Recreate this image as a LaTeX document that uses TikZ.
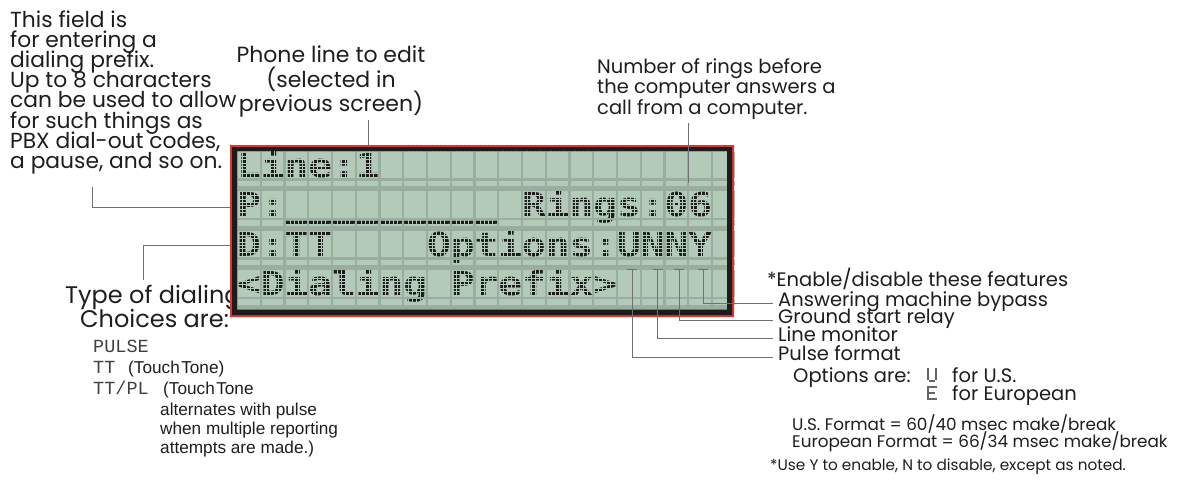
\documentclass[tikz,border=0pt]{standalone}
\usepackage{fontspec}
\setmainfont{Poppins}
\newfontfamily\lcdfont[FakeStretch=1.1955]{DejaVu Sans Mono}
\newfontfamily\courfont{Liberation Mono}
\newfontfamily\arialfont{Liberation Sans}
\definecolor{txtc}{HTML}{1E1E1E}
\definecolor{lcdred}{HTML}{E0352B}
\definecolor{lcdblack}{HTML}{1C1C1C}
\definecolor{gapc}{HTML}{9AAE9F}
\definecolor{cellc}{HTML}{B3CAB8}
\definecolor{connc}{HTML}{707070}
\newcommand\lcdsp[1]{\hphantom{#1}}
\begin{document}
\begin{tikzpicture}[x=1pt,y=-1pt,
  lt/.style={inner sep=0pt, anchor=base west, text=txtc, font=\fontsize{21.8}{21.8}\selectfont},
  bt/.style={inner sep=0pt, anchor=base west, text=txtc, font=\fontsize{24}{24}\selectfont},
  ct/.style={inner sep=0pt, anchor=base, text=txtc, font=\fontsize{22}{22}\selectfont},
  rt/.style={inner sep=0pt, anchor=base west, text=txtc, font=\fontsize{19.5}{19.5}\selectfont},
  lbl/.style={inner sep=0pt, anchor=west, text=txtc, text height=11pt, text depth=5pt, font=\fontsize{19.5}{19.5}\selectfont},
  st/.style={inner sep=0pt, anchor=base west, text=txtc, font=\fontsize{16.8}{16.8}\selectfont},
  nt/.style={inner sep=0pt, anchor=base west, text=txtc, font=\fontsize{15.3}{15.3}\selectfont},
  mono/.style={inner sep=0pt, anchor=base west, text=txtc!85, font=\courfont\fontsize{18.5}{18.5}\selectfont},
  ar/.style={inner sep=0pt, anchor=base west, text=txtc, font=\arialfont\fontsize{17.2}{17.2}\selectfont},
  lcdtxt/.style={inner sep=0pt, anchor=base west, text=lcdblack, text height=24pt, text depth=6pt, font=\lcdfont\bfseries\fontsize{33}{33}\selectfont},
  conn/.style={draw=connc, line width=0.9pt},
  mdot/.style={fill=connc!90!black}
]
\useasboundingbox (0,0) rectangle (1200,485);
\fill[white] (0,0) rectangle (1200,485);

% ---- top-left text
\foreach \t [count=\k from 0] in {This field is, for entering a, dialing prefix., Up to 8 characters, can be used to allow, for such things as, {PBX dial-out codes,}, {a pause, and so on.}}
  \node[lt] (tl\k) at (10,{27+20.2*\k}) {\t};

% ---- phone line text
\node[ct] (ph0) at (331,62) {Phone line to edit};
\node[ct] (ph1) at (331,87) {(selected in};
\node[ct] (ph2) at (331,111) {previous screen)};

% ---- rings text
\node[rt] (rg0) at (597,73) {Number of rings before};
\node[rt] (rg1) at (597,93.5) {the computer answers a};
\node[rt] (rg2) at (597,114) {call from a computer.};

% ---- type of dialing
\node[bt] (td0) at (65,303) {Type of dialing};
\node[bt] (td1) at (80,327) {Choices are:};
\node[mono] (m0) at (93,352) {PULSE};
\node[mono] (m1) at (93,373) {TT};
\node[ar] (a1) at (128,373) {(Touch\kern1.5pt Tone)};
\node[mono] (m2) at (93,394) {TT/PL};
\node[ar] (a2) at (163,394) {(Touch\kern1.5pt Tone};
\node[ar] (a3) at (160,415) {alternates with pulse};
\node[ar] (a4) at (160,434) {when multiple reporting};
\node[ar] (a5) at (160,453) {attempts are made.)};

% ---- connectors under the LCD
\coordinate (phs) at (368,120);
\coordinate (phe) at (368,146);
\draw[conn] (phs) -- (phe);
\coordinate (ps) at (92,187);
\coordinate (pe) at (231,207);
\draw[conn] (ps) |- (pe);
\coordinate (ds) at (143,280);
\coordinate (de) at (231,245);
\draw[conn] (ds) |- (de);

% ---- LCD background and cells
\fill[gapc] (237,151) rectangle (727,309.5);
\foreach \c in {0,...,20}
  \foreach \r in {0,...,3} {
    \fill[cellc] ({237+23.75*\c+1},{151+39.5*\r+0.5}) rectangle ++(21.5,26.5);
    \fill[cellc] ({237+23.75*\c+1},{151+39.5*\r+29.8}) rectangle ++(21.5,5.2);
  }
% ---- LCD text
\node[lcdtxt] (row0) at (237,{151+26}) {Line:1};
\node[lcdtxt] (row1) at (237,{151+39.5+26}) {P:\_\_\_\_\_\_\_\_\_\lcdsp{X}Rings:06};
\node[lcdtxt] (row2) at (237,{151+79+26}) {D:TT\lcdsp{XXXX}Options:UNNY};
\node[lcdtxt] (row3) at (237,{151+118.5+26}) {<Dialing\lcdsp{X}Prefix>};
% underscore cursor dots (thicken the underline row)
\foreach \c in {2,...,10}
  \fill[lcdblack] ({237+23.75*\c+1.5},{151+39.5+30.6}) rectangle ++(19,3);
% ---- dot lattice (breaks glyphs into dots)
\foreach \c in {0,...,20}
  \foreach \d in {4.5,8.5,12.5,16.5}
    \draw[cellc, line width=0.9pt] ({237+23.75*\c+1+\d},151) -- ++(0,158.5);
\foreach \r in {0,...,3}
  \foreach \j in {0,...,5}
    \draw[cellc, line width=0.8pt] (237,{151+39.5*\r+5+3.45*\j}) -- (727,{151+39.5*\r+5+3.45*\j});
% ---- cell gaps on top
\foreach \c in {0,...,20}
  \fill[gapc] ({237+23.75*\c-1.25},151) rectangle ++(2.25,158.5);
\foreach \r in {0,...,3} {
  \fill[gapc] (237,{151+39.5*\r+27}) rectangle (727,{151+39.5*\r+29.8});
  \fill[gapc] (237,{151+39.5*\r+35}) rectangle (727,{151+39.5*\r+40});
}
% ---- frame
\fill[lcdred, even odd rule] (230,145) rectangle (734,317) (232,147) rectangle (732,315);
\fill[lcdblack, even odd rule] (232,147) rectangle (732,315) (237,151) rectangle (727,309.5);

% ---- rings connector (over LCD)
\coordinate (rs) at (688,123);
\coordinate (re) at (688,183);
\draw[conn] (rs) -- (re);

% ---- right labels
\node[rt] (en) at (767,286) {*Enable/disable these features};
\node[lbl] (l1) at (778,303) {Answering machine bypass};
\node[lbl] (l2) at (778,320.5) {Ground start relay};
\node[lbl] (l3) at (778,338.5) {Line monitor};
\node[lbl] (l4) at (778,357) {Pulse format};
\coordinate (t1) at (703,269.5);
\coordinate (t2) at (679,269.5);
\coordinate (t3) at (657.5,269.5);
\coordinate (t4) at (632,269.5);
\foreach \t/\l in {t1/l1,t2/l2,t3/l3,t4/l4} {
  \draw[conn] ([xshift=-5pt]\t) -- ([xshift=5pt]\t);
  \draw[conn] (\t) |- ([xshift=-5pt]\l.west);
}
\node[rt] (opt) at (793,382) {Options are:};
% dot-matrix U and E
\foreach \x/\y in {0/0,0/2,0/4,0/6,0/8,0/10,8/0,8/2,8/4,8/6,8/8,8/10,2/12,4/12,6/12}
  \fill[mdot] ({927+\x},{368+\y}) rectangle ++(1.5,1.5);
\foreach \x/\y in {0/0,0/2,0/4,0/6,0/8,0/10,0/12,2/0,4/0,6/0,8/0,2/6,4/6,6/6,2/12,4/12,6/12,8/12}
  \fill[mdot] ({927+\x},{386+\y}) rectangle ++(1.5,1.5);
\node[rt] (us) at (952,382) {for U.S.};
\node[rt] (eu) at (952,400) {for European};

\node[st] (f1) at (792,430) {U.S. Format = 60/40 msec make/break};
\node[st] (f2) at (792,447) {European Format = 66/34 msec make/break};
\node[nt] (nt1) at (770,470) {*Use Y to enable, N to disable, except as noted.};
\end{tikzpicture}
\end{document}
